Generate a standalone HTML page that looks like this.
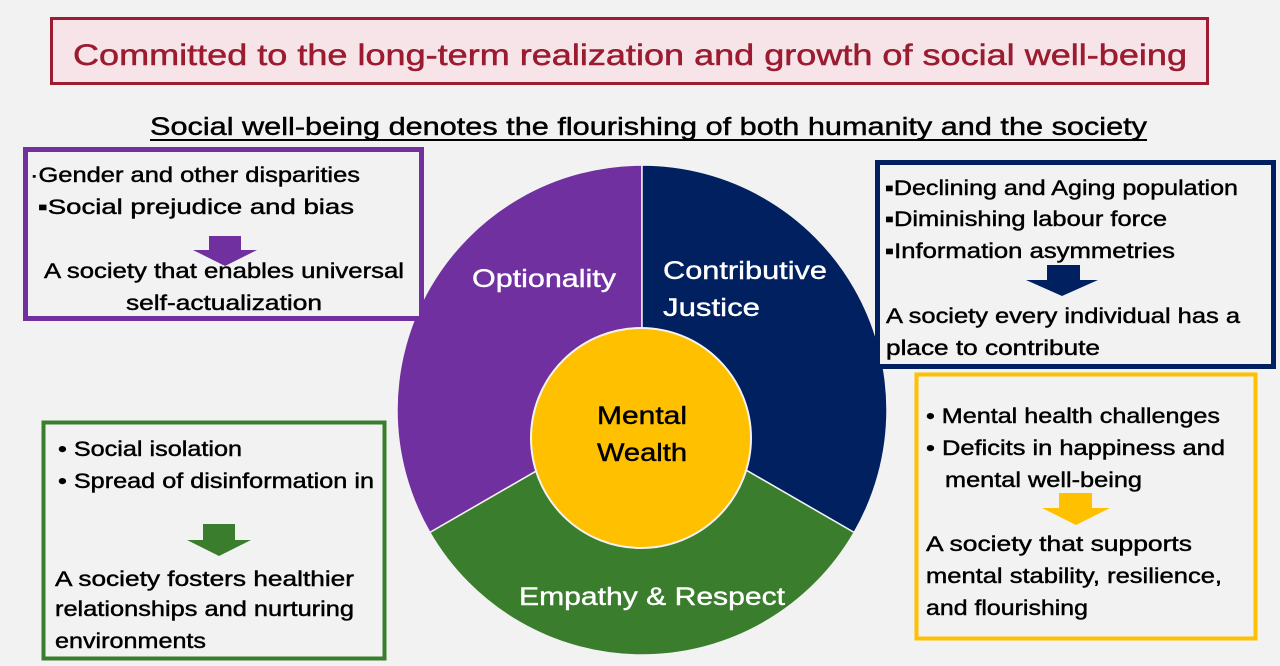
<!DOCTYPE html>
<html><head><meta charset="utf-8"><style>
html,body{margin:0;padding:0;background:#f2f2f2;}
svg{display:block;}
text{font-family:"Liberation Sans","Noto Sans CJK JP",sans-serif;}
.k text{stroke:#000;stroke-width:0.45;}
.w text{stroke:#fff;stroke-width:0.4;}
</style></head><body>
<svg width="1280" height="666" viewBox="0 0 1280 666" xmlns="http://www.w3.org/2000/svg">
<rect width="1280" height="666" fill="#f2f2f2"/>
<rect x="51.5" y="18.5" width="1156" height="65" fill="#f6e4e8" stroke="#9e1b32" stroke-width="3"/>
<text x="73" y="65" font-size="30" fill="#9b1b30" stroke="#9b1b30" stroke-width="0.5" textLength="1114" lengthAdjust="spacingAndGlyphs">Committed to the long-term realization and growth of social well-being</text>
<g class="k"><text x="150" y="135" font-size="25" fill="#000" textLength="997" lengthAdjust="spacingAndGlyphs">Social well-being denotes the flourishing of both humanity and the society</text></g>
<line x1="150" y1="140" x2="1147" y2="140" stroke="#000" stroke-width="2"/>

<path d="M642 410 L642 165 A245 245 0 0 0 429.8 532.5 Z" fill="#7030a0" stroke="#f2f2f2" stroke-width="1.5"/>
<path d="M642 410 L642 165 A245 245 0 0 1 854.2 532.5 Z" fill="#002060" stroke="#f2f2f2" stroke-width="1.5"/>
<path d="M642 410 L854.2 532.5 A245 245 0 0 1 429.8 532.5 Z" fill="#3a7d2c" stroke="#f2f2f2" stroke-width="1.5"/>
<circle cx="641" cy="438" r="110" fill="#ffc000" stroke="#f2f2f2" stroke-width="2"/>
<g class="w" fill="#fff" font-size="25">
<text x="472" y="287" textLength="144" lengthAdjust="spacingAndGlyphs">Optionality</text>
<text x="663" y="279" textLength="164" lengthAdjust="spacingAndGlyphs">Contributive</text>
<text x="663" y="316" textLength="97" lengthAdjust="spacingAndGlyphs">Justice</text>
<text x="519" y="605" textLength="266" lengthAdjust="spacingAndGlyphs">Empathy &amp; Respect</text>
</g>
<g class="k" fill="#000" font-size="25">
<text x="597" y="424" textLength="90" lengthAdjust="spacingAndGlyphs">Mental</text>
<text x="597" y="461" textLength="90" lengthAdjust="spacingAndGlyphs">Wealth</text>
</g>

<rect x="25.5" y="149.5" width="396" height="169" fill="#f2f2f2" stroke="#7030a0" stroke-width="5"/>
<g class="k" font-size="21" fill="#000">
<text x="30" y="182" textLength="330" lengthAdjust="spacingAndGlyphs">·Gender and other disparities</text>
<text x="38" y="214" textLength="316" lengthAdjust="spacingAndGlyphs">▪Social prejudice and bias</text>
</g>
<path d="M209 236 H241 V250 H257 L225 266 L193 250 H209 Z" fill="#7030a0"/>
<g class="k" font-size="21" fill="#000">
<text x="44" y="278" textLength="360" lengthAdjust="spacingAndGlyphs">A society that enables universal</text>
<text x="126" y="310" textLength="196" lengthAdjust="spacingAndGlyphs">self-actualization</text>
</g>

<rect x="877.5" y="162.5" width="396" height="204" fill="#f2f2f2" stroke="#002060" stroke-width="5"/>
<g class="k" font-size="21" fill="#000">
<text x="885" y="195" textLength="353" lengthAdjust="spacingAndGlyphs">▪Declining and Aging population</text>
<text x="885" y="226" textLength="282" lengthAdjust="spacingAndGlyphs">▪Diminishing labour force</text>
<text x="885" y="258" textLength="290" lengthAdjust="spacingAndGlyphs">▪Information asymmetries</text>
</g>
<path d="M1047 265 H1080 V280 H1098 L1062 296 L1026 280 H1047 Z" fill="#002060"/>
<g class="k" font-size="21" fill="#000">
<text x="886" y="323" textLength="354" lengthAdjust="spacingAndGlyphs">A society every individual has a</text>
<text x="886" y="355" textLength="214" lengthAdjust="spacingAndGlyphs">place to contribute</text>
</g>

<rect x="916.5" y="374.5" width="339" height="264" fill="#f2f2f2" stroke="#ffc000" stroke-width="4"/>
<g class="k" font-size="21" fill="#000">
<text x="926" y="423" textLength="294" lengthAdjust="spacingAndGlyphs">• Mental health challenges</text>
<text x="926" y="455" textLength="299" lengthAdjust="spacingAndGlyphs">• Deficits in happiness and</text>
<text x="945" y="487" textLength="197" lengthAdjust="spacingAndGlyphs">mental well-being</text>
</g>
<path d="M1059 493 H1092 V508 H1110 L1076 525 L1042 508 H1059 Z" fill="#ffc000"/>
<g class="k" font-size="21" fill="#000">
<text x="926" y="551" textLength="266" lengthAdjust="spacingAndGlyphs">A society that supports</text>
<text x="926" y="583" textLength="296" lengthAdjust="spacingAndGlyphs">mental stability, resilience,</text>
<text x="926" y="615" textLength="162" lengthAdjust="spacingAndGlyphs">and flourishing</text>
</g>

<rect x="43.5" y="422.5" width="341" height="236" fill="#f2f2f2" stroke="#3a7d2c" stroke-width="4"/>
<g class="k" font-size="21" fill="#000">
<text x="58" y="456" textLength="184" lengthAdjust="spacingAndGlyphs">• Social isolation</text>
<text x="58" y="488" textLength="316" lengthAdjust="spacingAndGlyphs">• Spread of disinformation in</text>
</g>
<path d="M203 524 H235 V540 H251 L219 556 L187 540 H203 Z" fill="#3a7d2c"/>
<g class="k" font-size="21" fill="#000">
<text x="55" y="586" textLength="299" lengthAdjust="spacingAndGlyphs">A society fosters healthier</text>
<text x="55" y="616" textLength="299" lengthAdjust="spacingAndGlyphs">relationships and nurturing</text>
<text x="55" y="648" textLength="151" lengthAdjust="spacingAndGlyphs">environments</text>
</g>
</svg>
</body></html>
